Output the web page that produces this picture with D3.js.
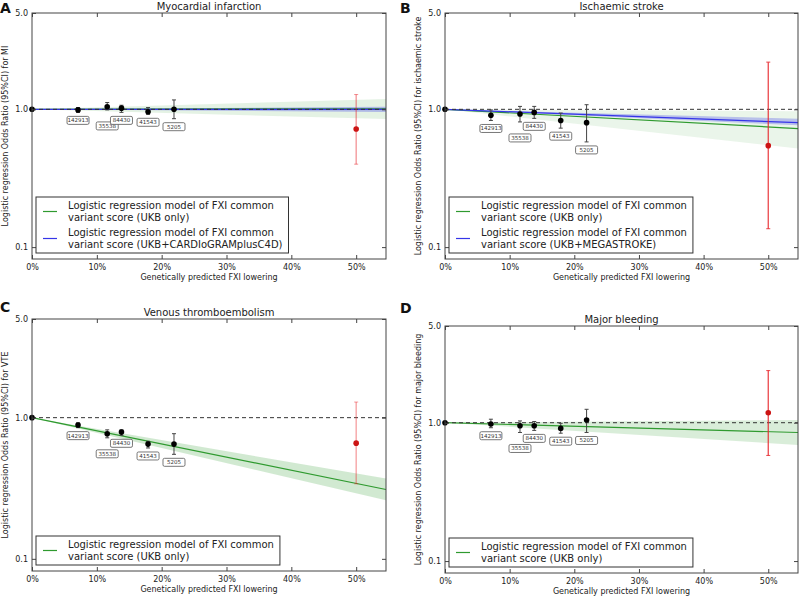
<!DOCTYPE html>
<html>
<head>
<meta charset="utf-8">
<script src="https://cdn.jsdelivr.net/npm/d3@7"></script>
<style>
  body { margin: 0; background: #fff; }
  svg { font-family: "DejaVu Sans", sans-serif; }
</style>
</head>
<body>
<svg id="chart" width="800" height="598"></svg>
<script>
// variant scores (x = genetically predicted FXI lowering)
const variantLabels = ["142913", "35538", "84430", "41543", "5205"];
const variantLowering = [0.071, 0.116, 0.138, 0.179, 0.219];

// odds ratios with 95% CI
const miOR = [0.99, 1.045, 1.02, 0.96, 1.0];
const miLo = [0.95, 0.99, 0.95, 0.92, 0.855];
const miHi = [1.03, 1.12, 1.07, 1.03, 1.17];

const isOR = [0.905, 0.925, 0.95, 0.83, 0.80];
const isLo = [0.83, 0.81, 0.86, 0.73, 0.58];
const isHi = [0.99, 1.05, 1.05, 0.94, 1.08];

const vteOR = [0.887, 0.77, 0.79, 0.65, 0.65];
const vteLo = [0.85, 0.72, 0.75, 0.61, 0.55];
const vteHi = [0.92, 0.82, 0.82, 0.68, 0.77];

const bleedOR = [0.98, 0.95, 0.95, 0.91, 1.045];
const bleedLo = [0.92, 0.85, 0.88, 0.84, 0.85];
const bleedHi = [1.06, 1.03, 1.02, 0.99, 1.25];

// trial estimate (red), one per panel: MI, IS, VTE, bleeding
const trialLowering = 0.5;
const trialOR = [0.72, 0.545, 0.66, 1.18];
const trialLo = [0.40, 0.136, 0.34, 0.58];
const trialHi = [1.28, 2.2, 1.29, 2.38];

// fitted model lines, at x = 0 and at the right edge
const fitLowering = [0, 0.546];
const miUKB = [1, 1.01], miUKBLo = [1, 0.85], miUKBHi = [1, 1.19];
const miCons = [1, 1.0], miConsLo = [1, 0.955], miConsHi = [1, 1.045];
const isUKB = [1, 0.725], isUKBLo = [1, 0.52], isUKBHi = [1, 0.97];
const isCons = [1, 0.80], isConsLo = [1, 0.766], isConsHi = [1, 0.856];
const vteUKB = [1, 0.31], vteUKBLo = [1, 0.26], vteUKBHi = [1, 0.37];
const bleedUKB = [1, 0.85], bleedUKBLo = [1, 0.69], bleedUKBHi = [1, 1.045];

const xTicks = [0, 0.1, 0.2, 0.3, 0.4, 0.5];
const yTicks = [0.1, 1, 5];

const GREEN = "#2f9a2f", BLUE = "#3535e8";
const ukbName = ["Logistic regression model of FXI common", "variant score (UKB only)"];

const panels = [
  { letter: "A", lx: 0, ly: 13, title: "Myocardial infarction", ylab: "Logistic regression Odds Ratio (95%CI) for MI",
    frame: [32, 386, 13, 259], or: miOR, lo: miLo, hi: miHi, t: 0, trialAlpha: 0.5,
    fits: [
      { v: miUKB, lo: miUKBLo, hi: miUKBHi, color: GREEN, band: 0.13, name: ukbName },
      { v: miCons, lo: miConsLo, hi: miConsHi, color: BLUE, band: 0.3,
        name: ["Logistic regression model of FXI common", "variant score (UKB+CARDIoGRAMplusC4D)"] }
    ] },
  { letter: "B", lx: 400, ly: 13, title: "Ischaemic stroke", ylab: "Logistic regression Odds Ratio (95%CI) for ischaemic stroke",
    frame: [445, 798, 13, 259], or: isOR, lo: isLo, hi: isHi, t: 1, trialAlpha: 0.85,
    fits: [
      { v: isUKB, lo: isUKBLo, hi: isUKBHi, color: GREEN, band: 0.1, name: ukbName },
      { v: isCons, lo: isConsLo, hi: isConsHi, color: BLUE, band: 0.28,
        name: ["Logistic regression model of FXI common", "variant score (UKB+MEGASTROKE)"] }
    ] },
  { letter: "C", lx: 0, ly: 312, title: "Venous thromboembolism", ylab: "Logistic regression Odds Ratio (95%CI) for VTE",
    frame: [32, 386, 319, 571], or: vteOR, lo: vteLo, hi: vteHi, t: 2, trialAlpha: 0.45,
    fits: [ { v: vteUKB, lo: vteUKBLo, hi: vteUKBHi, color: GREEN, band: 0.22, name: ukbName } ] },
  { letter: "D", lx: 400, ly: 313, title: "Major bleeding", ylab: "Logistic regression Odds Ratio (95%CI) for major bleeding",
    frame: [445, 798, 326, 573], or: bleedOR, lo: bleedLo, hi: bleedHi, t: 3, trialAlpha: 0.85,
    fits: [ { v: bleedUKB, lo: bleedUKBLo, hi: bleedUKBHi, color: GREEN, band: 0.18, name: ukbName } ] }
];

const svg = d3.select("#chart");

panels.forEach(function (p) {
  let [x0, x1, y0, y1] = p.frame;
  let x = d3.scaleLinear().domain([0, fitLowering[1]]).range([x0, x1]);
  let y = d3.scaleLog().domain([0.082, 5]).range([y1, y0]);
  let g = svg.append("g");

  // fitted bands and lines
  p.fits.forEach(function (f) {
    let pts = fitLowering.map((d, i) => ({ x: d, lo: f.lo[i], hi: f.hi[i] }));
    g.append("path")
      .attr("d", d3.area().x(d => x(d.x)).y0(d => y(d.lo)).y1(d => y(d.hi))(pts))
      .attr("fill", f.color).attr("fill-opacity", f.band);
  });
  p.fits.forEach(function (f) {
    let pts = fitLowering.map((d, i) => ({ x: d, v: f.v[i] }));
    g.append("path")
      .attr("d", d3.line().x(d => x(d.x)).y(d => y(d.v))(pts))
      .attr("stroke", f.color).attr("stroke-width", 1.2).attr("fill", "none");
  });

  // reference line at OR = 1
  g.append("line")
    .attr("x1", x0).attr("x2", x1).attr("y1", y(1)).attr("y2", y(1))
    .attr("stroke", "#333").attr("stroke-dasharray", "4,3").attr("stroke-width", 1);

  // trial estimate
  let tx = x(trialLowering);
  g.append("line")
    .attr("x1", tx).attr("x2", tx).attr("y1", y(trialLo[p.t])).attr("y2", y(trialHi[p.t]))
    .attr("stroke", "#e8262b").attr("stroke-opacity", p.trialAlpha).attr("stroke-width", 1.3);
  [trialLo[p.t], trialHi[p.t]].forEach(v => {
    g.append("line").attr("x1", tx - 2).attr("x2", tx + 2).attr("y1", y(v)).attr("y2", y(v))
      .attr("stroke", "#e8262b").attr("stroke-opacity", p.trialAlpha);
  });
  g.append("circle").attr("cx", tx).attr("cy", y(trialOR[p.t])).attr("r", 2.8).attr("fill", "#cc1414");

  // variant score points
  let rows = variantLabels.map((lab, i) => ({ lab: lab, x: variantLowering[i], or: p.or[i], lo: p.lo[i], hi: p.hi[i] }));
  let pg = g.selectAll("g.pt").data(rows).join("g").attr("class", "pt");
  pg.append("line")
    .attr("x1", d => x(d.x)).attr("x2", d => x(d.x))
    .attr("y1", d => y(d.lo)).attr("y2", d => y(d.hi))
    .attr("stroke", "#444").attr("stroke-width", 1);
  pg.append("line")
    .attr("x1", d => x(d.x) - 2).attr("x2", d => x(d.x) + 2)
    .attr("y1", d => y(d.lo)).attr("y2", d => y(d.lo)).attr("stroke", "#444");
  pg.append("line")
    .attr("x1", d => x(d.x) - 2).attr("x2", d => x(d.x) + 2)
    .attr("y1", d => y(d.hi)).attr("y2", d => y(d.hi)).attr("stroke", "#444");
  pg.append("circle").attr("cx", d => x(d.x)).attr("cy", d => y(d.or)).attr("r", 2.8).attr("fill", "#000");

  // point at origin
  g.append("circle").attr("cx", x(0)).attr("cy", y(1)).attr("r", 2.8).attr("fill", "#000");

  // variant labels
  let lg = g.selectAll("g.lab").data(rows).join("g").attr("class", "lab")
    .attr("transform", d => "translate(" + x(d.x) + "," + (y(d.lo) + (d.lab == "35538" ? 16 : 8)) + ")");
  lg.append("rect")
    .attr("x", -11).attr("y", -4).attr("width", 22).attr("height", 8).attr("rx", 1.5)
    .attr("fill", "#fff").attr("stroke", "#555").attr("stroke-width", 0.8);
  lg.append("text").text(d => d.lab)
    .attr("text-anchor", "middle").attr("dy", "0.35em")
    .attr("font-size", "5.5px").attr("fill", "#333");

  // axes
  g.append("g").attr("transform", "translate(0," + y1 + ")")
    .call(d3.axisBottom(x).tickValues(xTicks).tickFormat(d3.format(".0%")).tickSize(-4).tickPadding(5))
    .call(a => a.select(".domain").remove());
  g.append("g").attr("transform", "translate(0," + y0 + ")")
    .call(d3.axisTop(x).tickValues(xTicks).tickFormat("").tickSize(-4))
    .call(a => a.select(".domain").remove());
  g.append("g").attr("transform", "translate(" + x0 + ",0)")
    .call(d3.axisLeft(y).tickValues(yTicks).tickFormat(d3.format(".1f")).tickSize(-4).tickPadding(4))
    .call(a => a.select(".domain").remove());
  g.append("g").attr("transform", "translate(" + x1 + ",0)")
    .call(d3.axisRight(y).tickValues(yTicks).tickFormat("").tickSize(-4))
    .call(a => a.select(".domain").remove());
  g.selectAll(".tick text").attr("font-size", "8px").attr("font-family", "DejaVu Sans").attr("fill", "#222");
  g.selectAll(".tick line").attr("stroke", "#444");

  g.append("rect")
    .attr("x", x0).attr("y", y0).attr("width", x1 - x0).attr("height", y1 - y0)
    .attr("fill", "none").attr("stroke", "#444").attr("stroke-width", 1);

  // legend
  let leg = g.append("g");
  let lineH = 11.5, entryH = 27;
  let boxH = p.fits.length * lineH * 2 + (p.fits.length - 1) * (entryH - 2 * lineH) + 6;
  let bx = x0 + 4, by = y1 - 6 - boxH;
  let box = leg.append("rect").attr("x", bx).attr("y", by).attr("height", boxH)
    .attr("fill", "#fff").attr("stroke", "#333").attr("stroke-width", 1);
  let maxW = 0;
  p.fits.forEach(function (f, i) {
    let ty = by + 3 + i * entryH;
    leg.append("line")
      .attr("x1", bx + 7).attr("x2", bx + 21).attr("y1", ty + lineH).attr("y2", ty + lineH)
      .attr("stroke", f.color).attr("stroke-width", 1.2);
    f.name.forEach(function (s, j) {
      let t = leg.append("text").text(s)
        .attr("x", bx + 32).attr("y", ty + j * lineH + 9)
        .attr("font-size", "10px").attr("fill", "#222");
      maxW = Math.max(maxW, t.node().getComputedTextLength());
    });
  });
  box.attr("width", 32 + maxW + 6);

  // titles and labels
  g.append("text").text(p.title)
    .attr("x", (x0 + x1) / 2).attr("y", y0 - 3)
    .attr("text-anchor", "middle").attr("font-size", "10px").attr("fill", "#222");
  g.append("text").text("Genetically predicted FXI lowering")
    .attr("x", (x0 + x1) / 2).attr("y", y1 + 21)
    .attr("text-anchor", "middle").attr("font-size", "8px").attr("fill", "#222");
  g.append("text").text(p.ylab)
    .attr("transform", "translate(" + (x0 - 24) + "," + ((y0 + y1) / 2) + ") rotate(-90)")
    .attr("text-anchor", "middle").attr("font-size", "8px").attr("fill", "#222");
  g.append("text").text(p.letter)
    .attr("x", p.lx).attr("y", p.ly)
    .attr("font-size", "14px").attr("font-weight", "bold").attr("fill", "#111");
});
</script>
</body>
</html>
